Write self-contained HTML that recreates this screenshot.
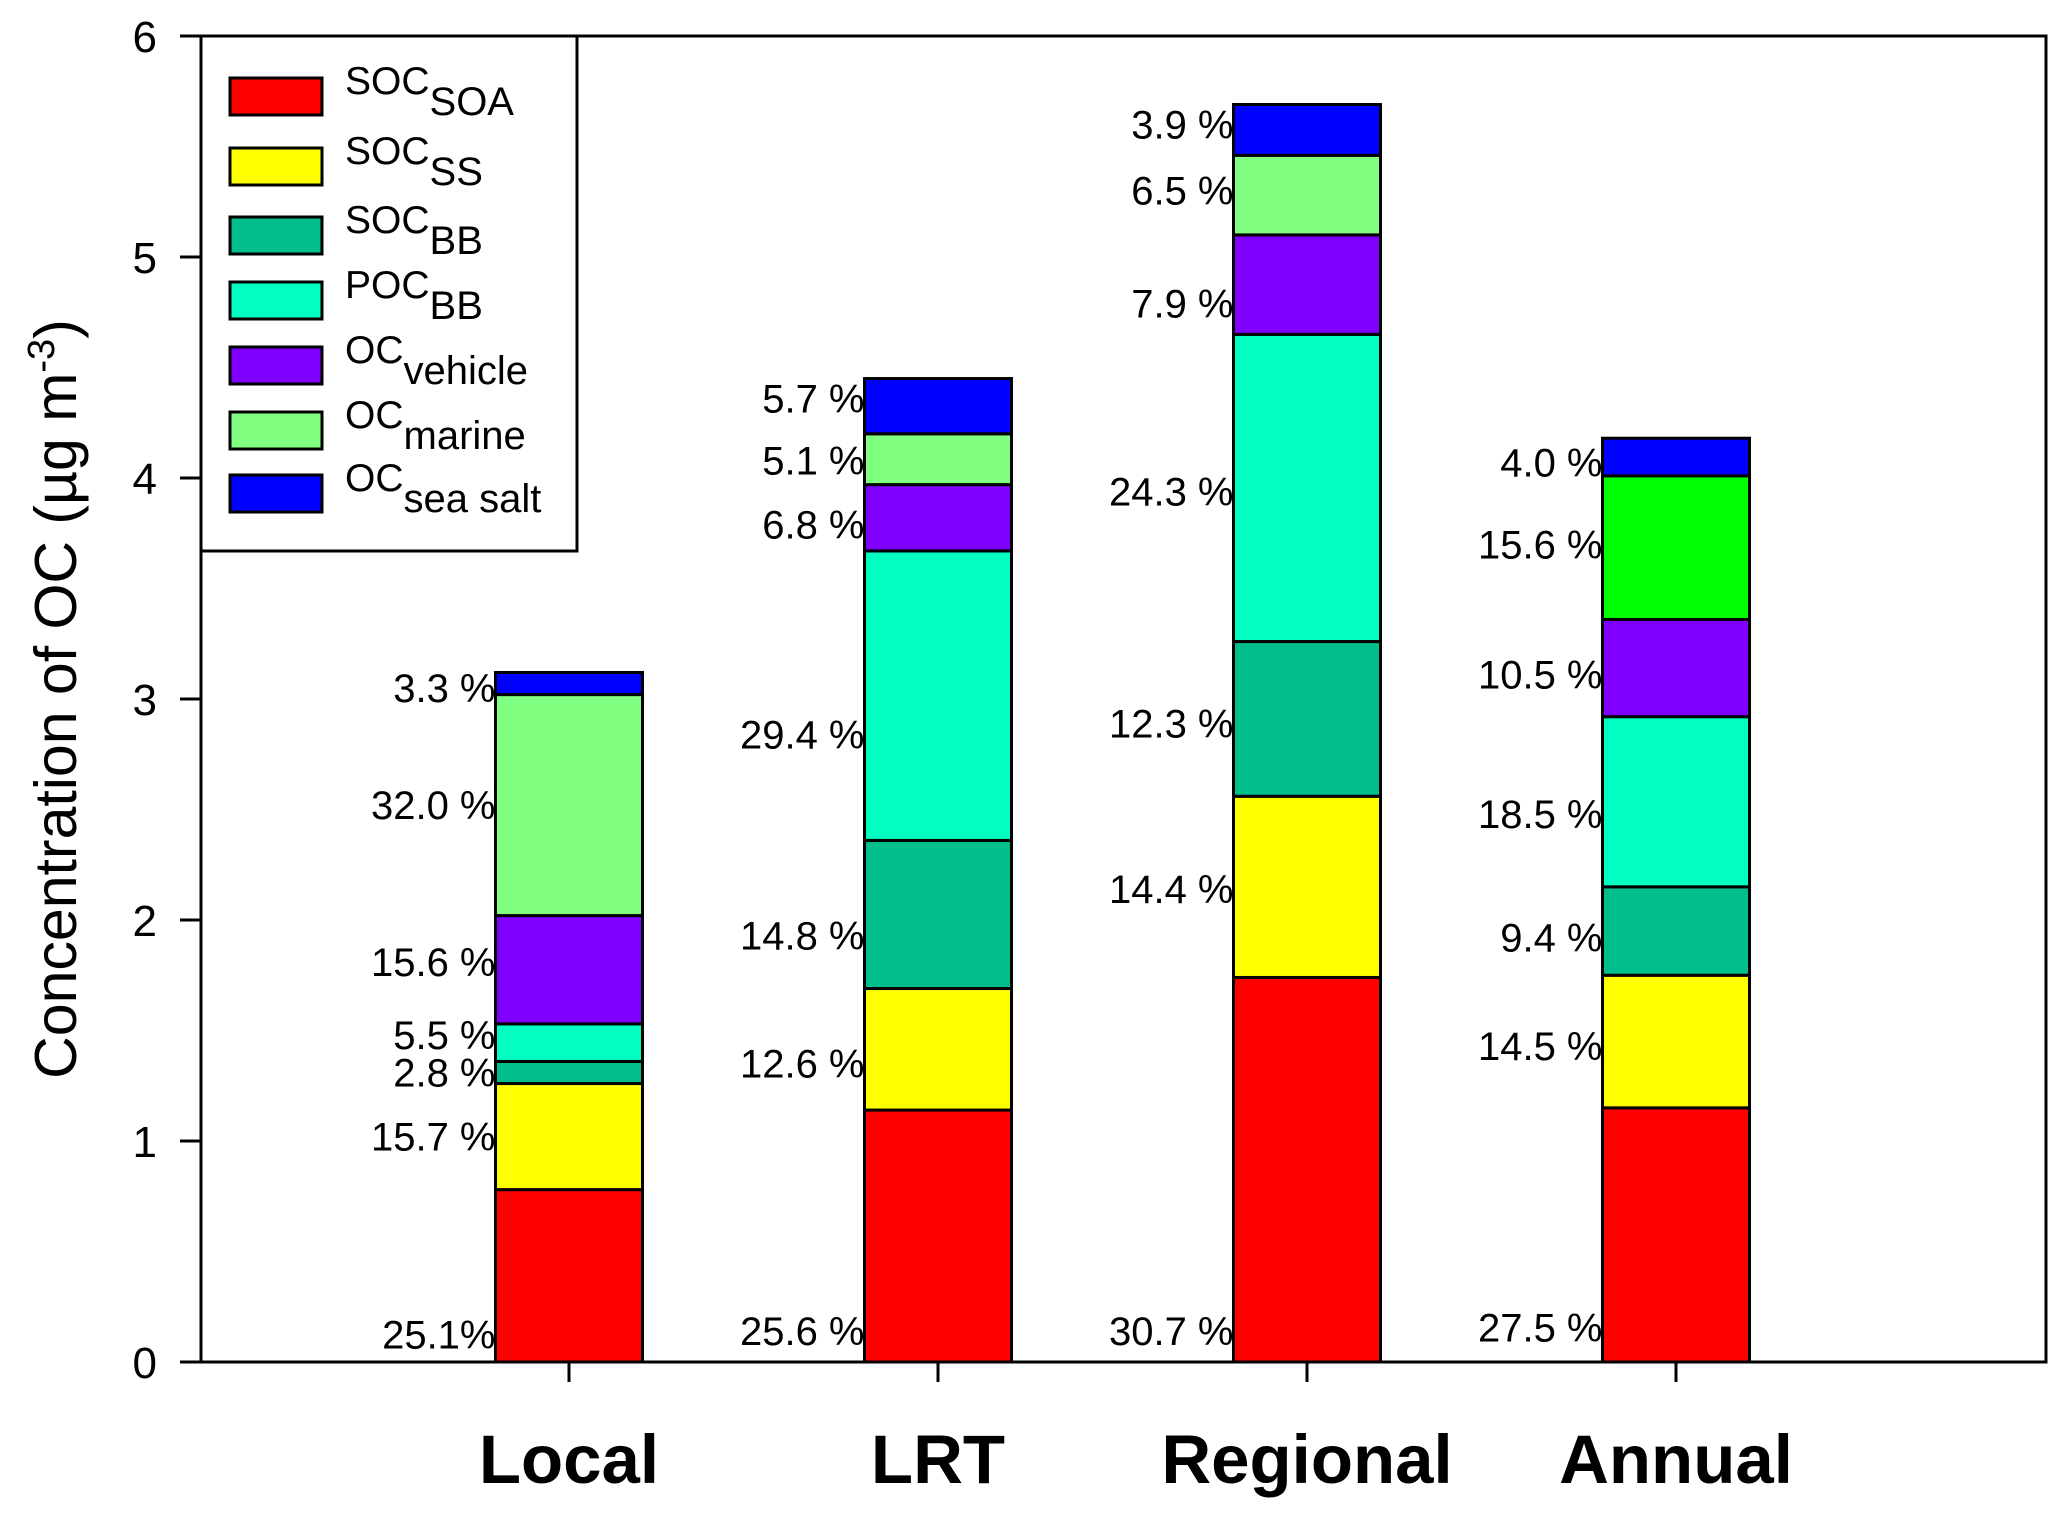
<!DOCTYPE html>
<html><head><meta charset="utf-8"><style>
html,body{margin:0;padding:0;background:#fff;}
svg{display:block;font-family:"Liberation Sans",Arial,sans-serif;}
</style></head><body>
<svg id="chart" width="2067" height="1517" viewBox="0 0 2067 1517" xmlns="http://www.w3.org/2000/svg">
<rect x="0" y="0" width="2067" height="1517" fill="#fff"/>
<g id="bars"></g>
<g id="labels"></g>
<rect x="201" y="36" width="1845" height="1326" fill="none" stroke="#000" stroke-width="3"/>
<g id="axes"></g>
<text transform="translate(76,699) rotate(-90)" text-anchor="middle" font-size="59">Concentration of OC (µg m<tspan dy="-22" font-size="38">-3</tspan><tspan dy="22">)</tspan></text>
<g id="legend">
<rect x="201" y="36" width="376" height="515" fill="#fff" stroke="#000" stroke-width="3"/>
</g>
</svg>
<script>
const categories = ["Local","LRT","Regional","Annual"];
const seriesNames = ["SOC_SOA","SOC_SS","SOC_BB","POC_BB","OC_vehicle","OC_marine","OC_sea salt"];
const socSoa   = [0.78,1.14,1.74,1.15];
const socSs    = [0.48,0.55,0.82,0.60];
const socBb    = [0.10,0.67,0.70,0.40];
const pocBb    = [0.17,1.31,1.39,0.77];
const ocVehicle= [0.49,0.30,0.45,0.44];
const ocMarine = [1.00,0.23,0.36,0.65];
const ocSeaSalt= [0.10,0.25,0.23,0.17];
const yTicks = [0,1,2,3,4,5,6];
const pctLocal    = ["25.1%","15.7 %","2.8 %","5.5 %","15.6 %","32.0 %","3.3 %"];
const pctLRT      = ["25.6 %","12.6 %","14.8 %","29.4 %","6.8 %","5.1 %","5.7 %"];
const pctRegional = ["30.7 %","14.4 %","12.3 %","24.3 %","7.9 %","6.5 %","3.9 %"];
const pctAnnual   = ["27.5 %","14.5 %","9.4 %","18.5 %","10.5 %","15.6 %","4.0 %"];
const labelYLocal    = [0.125,1.02,1.31,1.48,1.81,2.52,3.05];
const labelYLRT      = [0.14,1.35,1.93,2.84,3.79,4.08,4.36];
const labelYRegional = [0.14,2.14,2.89,3.94,4.79,5.30,5.60];
const labelYAnnual   = [0.155,1.43,1.92,2.48,3.11,3.70,4.07];

const series=[socSoa,socSs,socBb,pocBb,ocVehicle,ocMarine,ocSeaSalt];
const pcts=[pctLocal,pctLRT,pctRegional,pctAnnual];
const labelYs=[labelYLocal,labelYLRT,labelYRegional,labelYAnnual];
const colors=["#ff0000","#ffff00","#00bf8c","#00ffc0","#8000ff","#80ff80","#0000ff"];
const catColors=function(ci,si){ if(ci===3&&si===5) return "#00ff00"; return colors[si]; };
const NS="http://www.w3.org/2000/svg";
const plotL=201,plotR=2046,plotT=36,plotB=1362,ymax=6;
const yScale=v=>plotB-(v/ymax)*(plotB-plotT);
const step=369, first=569;
const xScale=i=>first+i*step;
const barW=147;
function mk(tag,attrs,parent){const e=document.createElementNS(NS,tag);for(const k in attrs)e.setAttribute(k,attrs[k]);parent.appendChild(e);return e;}
const gB=document.getElementById('bars'),gL=document.getElementById('labels'),gA=document.getElementById('axes'),gLeg=document.getElementById('legend');
categories.forEach((c,ci)=>{
  let cum=0;
  series.forEach((s,si)=>{
    const v=s[ci];
    const r=mk('rect',{x:xScale(ci)-barW/2,y:yScale(cum+v),width:barW,height:yScale(cum)-yScale(cum+v),fill:catColors(ci,si),stroke:'#000','stroke-width':3},gB);
    
    
    cum+=v;
    const t=mk('text',{x:xScale(ci)-barW/2,y:yScale(labelYs[ci][si])+14,'text-anchor':'end','font-size':40},gL);
    t.textContent=pcts[ci][si];
    
    
  });
  const tk=mk('line',{x1:xScale(ci),x2:xScale(ci),y1:plotB,y2:plotB+20,stroke:'#000','stroke-width':3},gA);
  
  
  const tl=mk('text',{x:xScale(ci),y:1483,'text-anchor':'middle','font-size':69,'font-weight':'bold'},gA);
  tl.textContent=c;
  
  
});
yTicks.forEach(v=>{
  const l=mk('line',{x1:plotL-21,x2:plotL,y1:yScale(v),y2:yScale(v),stroke:'#000','stroke-width':3},gA);
  
  
  const t=mk('text',{x:157,y:yScale(v)+16,'text-anchor':'end','font-size':44},gA);
  t.textContent=v;
  
  
});
const legMain=["SOC","SOC","SOC","POC","OC","OC","OC"];
const legSub=["SOA","SS","BB","BB","vehicle","marine","sea salt"];
const legY=[96,166,235,300,365,430,493];
legMain.forEach((m,i)=>{
  const r=mk('rect',{x:230,y:legY[i]-18,width:92,height:37,fill:colors[i],stroke:'#000','stroke-width':3},gLeg);
  
  
  const t=mk('text',{x:345,y:legY[i]-2,'font-size':39},gLeg);
  
  
  t.textContent=m;
  const ts=mk('tspan',{dy:21,'font-size':40},t);
  ts.textContent=legSub[i];
});
</script>
</body></html>
